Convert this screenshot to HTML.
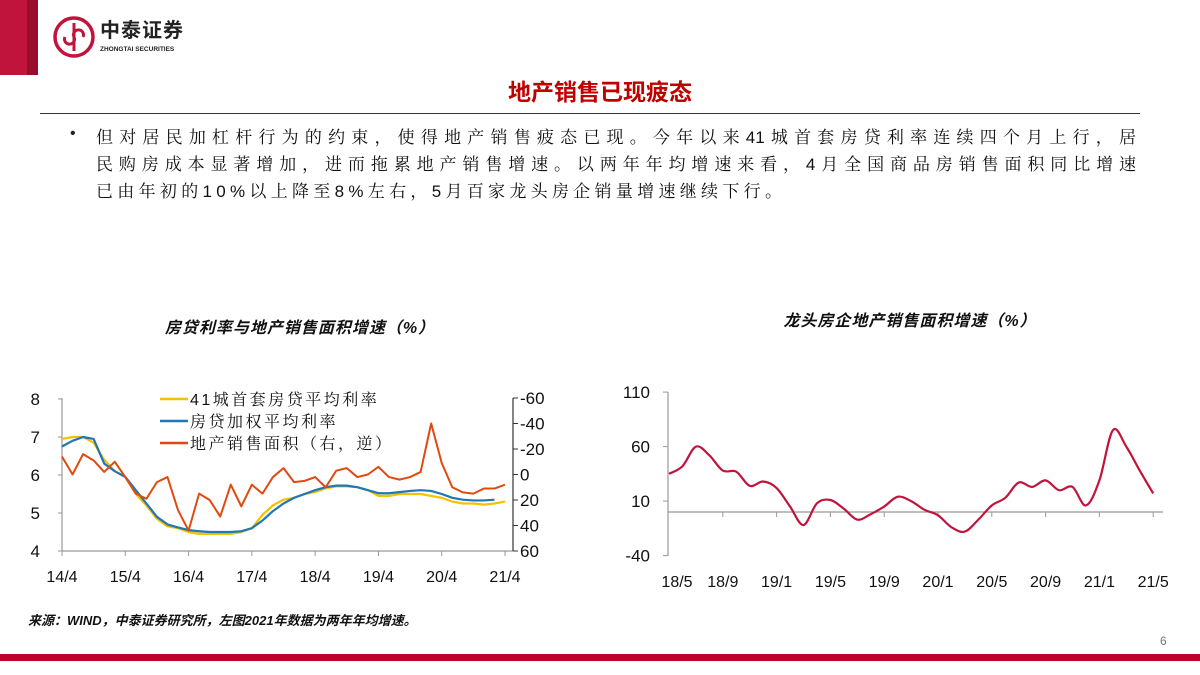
<!DOCTYPE html>
<html><head><meta charset="utf-8"><style>
body{margin:0;width:1200px;height:675px;overflow:hidden;background:#fff;font-family:"Liberation Sans","Noto Sans CJK SC",sans-serif;}
.abs{position:absolute;}
.ln{position:absolute;left:96px;font-size:17px;color:#111;font-family:"Liberation Sans","Noto Serif CJK SC",serif;white-space:nowrap;}
.j{width:1040px;text-align:justify;text-align-last:justify;}
</style></head><body>
<div class="abs" style="left:0;top:0;width:1200px;height:675px;">
<div class="abs" style="left:0;top:0;width:27px;height:75px;background:#c0143c;"></div>
<div class="abs" style="left:27px;top:0;width:11px;height:75px;background:#9a0c2c;"></div>
<svg class="abs" style="left:52px;top:15px" width="44" height="44" viewBox="0 0 44 44"><circle cx="22" cy="22" r="19" fill="none" stroke="#c0143c" stroke-width="3.5"/><path d="M22 8 V36 M13 22 a5 5 0 1 0 9 0 a5 5 0 1 1 9 0" fill="none" stroke="#c0143c" stroke-width="3"/></svg>
<div class="abs" style="left:100px;top:19px;font-size:20px;line-height:24px;font-weight:bold;color:#222;letter-spacing:1px;">中泰证券</div>
<div class="abs" style="left:100px;top:46px;font-size:6.5px;font-weight:bold;color:#222;">ZHONGTAI SECURITIES</div>
<div class="abs" style="left:400px;width:400px;top:73px;text-align:center;font-size:23px;font-weight:bold;color:#c00000;">地产销售已现疲态</div>
<div class="abs" style="left:40px;top:113px;width:1100px;height:1px;background:#333;"></div>
<div class="abs" style="left:70px;top:125px;font-size:16px;color:#222;">•</div>
<div class="ln j" style="top:123px;">但对居民加杠杆行为的约束，使得地产销售疲态已现。今年以来41城首套房贷利率连续四个月上行，居</div>
<div class="ln j" style="top:150px;">民购房成本显著增加，进而拖累地产销售增速。以两年年均增速来看，4月全国商品房销售面积同比增速</div>
<div class="ln" style="top:177px;letter-spacing:4.3px;">已由年初的10%以上降至8%左右，5月百家龙头房企销量增速继续下行。</div>
<div class="abs" style="left:100px;width:400px;top:314px;text-align:center;font-size:16px;font-weight:bold;font-style:italic;color:#111;letter-spacing:1px;">房贷利率与地产销售面积增速（%）</div>
<div class="abs" style="left:710px;width:400px;top:307px;text-align:center;font-size:16px;font-weight:bold;font-style:italic;color:#111;letter-spacing:1px;">龙头房企地产销售面积增速（%）</div>
<svg class="abs" id="lc" style="left:0;top:0" width="600" height="600"></svg>
<svg class="abs" id="rc" style="left:0;top:0" width="1200" height="600"></svg>
<div class="abs" style="left:28px;top:610px;font-size:13px;font-weight:bold;font-style:italic;color:#111;">来源：WIND，中泰证券研究所，左图2021年数据为两年年均增速。</div>
<div class="abs" style="left:1160px;top:634px;font-size:12px;color:#777;">6</div>
<div class="abs" style="left:0;top:654px;width:1200px;height:7px;background:#c00028;"></div>
</div>
<script>
const NS='http://www.w3.org/2000/svg';
function mk(p,t,a){const e=document.createElementNS(NS,t);for(const k in a)e.setAttribute(k,a[k]);p.appendChild(e);return e;}
// ---- left chart data (every 2 months from 14/4) ----
const xLabelsL=['14/4','15/4','16/4','17/4','18/4','19/4','20/4','21/4'];
const yTicksL=[4,5,6,7,8];
const yTicksR=[-60,-40,-20,0,20,40,60];
const rate41=[6.95,7.0,7.0,6.85,6.4,6.1,5.95,5.5,5.2,4.85,4.65,4.6,4.5,4.45,4.45,4.45,4.45,4.5,4.6,4.95,5.2,5.35,5.4,5.5,5.55,5.65,5.7,5.7,5.68,5.6,5.45,5.45,5.5,5.5,5.5,5.45,5.4,5.3,5.25,5.25,5.22,5.25,5.3];
const rateW=[6.75,6.9,7.0,6.95,6.3,6.1,5.95,5.6,5.25,4.9,4.7,4.62,4.55,4.52,4.5,4.5,4.5,4.52,4.6,4.8,5.05,5.25,5.4,5.5,5.6,5.68,5.72,5.72,5.68,5.6,5.52,5.52,5.55,5.58,5.6,5.58,5.5,5.4,5.35,5.33,5.33,5.35];
const salesArea=[-14,0,-16,-11,-2,-10,2,15,19,6,2,28,44,15,20,33,8,25,8,15,2,-5,6,5,2,10,-3,-5,2,0,-6,2,4,2,-2,-40,-9,10,14,15,11,11,8];
const legendL=['41城首套房贷平均利率','房贷加权平均利率','地产销售面积（右，逆）'];
// ---- right chart data (monthly from 18/5) ----
const xLabelsR=['18/5','18/9','19/1','19/5','19/9','20/1','20/5','20/9','21/1','21/5'];
const yTicksRC=[-40,10,60,110];
const topSales=[35,42,60,52,38,37,24,28,22,5,-12,8,11,3,-7,-2,5,14,10,2,-3,-14,-18,-7,6,13,27,23,29,20,23,6,29,75,60,38,17];

const L=document.getElementById('lc');
const lx=m=>62+m*(505-62)/84, ly=v=>551-(v-4)*38, ry=v=>398+(v+60)*153/120;
mk(L,'line',{x1:62,y1:398,x2:62,y2:551,stroke:'#999','stroke-width':1.2});
mk(L,'line',{x1:62,y1:551,x2:513,y2:551,stroke:'#999','stroke-width':1.2});
mk(L,'line',{x1:513,y1:398,x2:513,y2:551,stroke:'#333','stroke-width':1.2});
yTicksL.forEach(v=>{mk(L,'line',{x1:58,y1:ly(v),x2:62,y2:ly(v),stroke:'#999'});const t=mk(L,'text',{x:40,y:ly(v)+6,'text-anchor':'end','font-size':17,fill:'#111'});t.textContent=v;});
yTicksR.forEach(v=>{mk(L,'line',{x1:513,y1:ry(v),x2:518,y2:ry(v),stroke:'#333'});const t=mk(L,'text',{x:520,y:ry(v)+6,'font-size':17,fill:'#111'});t.textContent=v;});
xLabelsL.forEach((s,i)=>{const x=lx(i*12);mk(L,'line',{x1:x,y1:551,x2:x,y2:556,stroke:'#999'});const t=mk(L,'text',{x:x,y:582,'text-anchor':'middle','font-size':16,fill:'#111'});t.textContent=s;});
function poly(svg,arr,fx,fy,col,name,w){const p=mk(svg,'polyline',{points:arr.map((v,i)=>fx(i)+','+fy(v)).join(' '),fill:'none',stroke:col,'stroke-width':w,'stroke-linejoin':'round'});}
poly(L,rate41,i=>lx(i*2),ly,'#f5c000','line-41-city-rate',2.2);
poly(L,rateW,i=>lx(i*2),ly,'#1f77b4','line-weighted-rate',2.2);
poly(L,salesArea,i=>lx(i*2),ry,'#e04a10','line-sales-area',2);
const lc=['#f5c000','#1f77b4','#e04a10'];
legendL.forEach((s,i)=>{const y=399+i*22;mk(L,'line',{x1:160,y1:y,x2:188,y2:y,stroke:lc[i],'stroke-width':2.5});const t=mk(L,'text',{x:190,y:y+6,'font-size':16,fill:'#111','letter-spacing':2.5,'font-family':'"Liberation Sans","Noto Serif CJK SC",serif'});t.textContent=s;});

const R=document.getElementById('rc');
const rx=i=>669+i*13.45, rY=v=>512-v*1.09;
mk(R,'line',{x1:668,y1:392,x2:668,y2:556,stroke:'#999','stroke-width':1.2});
mk(R,'line',{x1:668,y1:512,x2:1163,y2:512,stroke:'#999','stroke-width':1.2});
yTicksRC.forEach(v=>{mk(R,'line',{x1:663,y1:rY(v),x2:668,y2:rY(v),stroke:'#999'});const t=mk(R,'text',{x:650,y:rY(v)+6,'text-anchor':'end','font-size':17,fill:'#111'});t.textContent=v;});
xLabelsR.forEach((s,i)=>{const x=rx(i*4);if(i>0)mk(R,'line',{x1:x,y1:512,x2:x,y2:517,stroke:'#999'});const t=mk(R,'text',{x:x+(i==0?8:0),y:587,'text-anchor':'middle','font-size':16,fill:'#111'});t.textContent=s;});
let pts=topSales.map((v,i)=>[rx(i),rY(v)]);let d='M'+pts[0];
for(let i=0;i<pts.length-1;i++){const p0=pts[Math.max(0,i-1)],p1=pts[i],p2=pts[i+1],p3=pts[Math.min(pts.length-1,i+2)];d+=' C'+(p1[0]+(p2[0]-p0[0])/6)+','+(p1[1]+(p2[1]-p0[1])/6)+' '+(p2[0]-(p3[0]-p1[0])/6)+','+(p2[1]-(p3[1]-p1[1])/6)+' '+p2[0]+','+p2[1];}
const rp=mk(R,'path',{d:d,fill:'none',stroke:'#c0143c','stroke-width':2.2});


</script>
</body></html>
